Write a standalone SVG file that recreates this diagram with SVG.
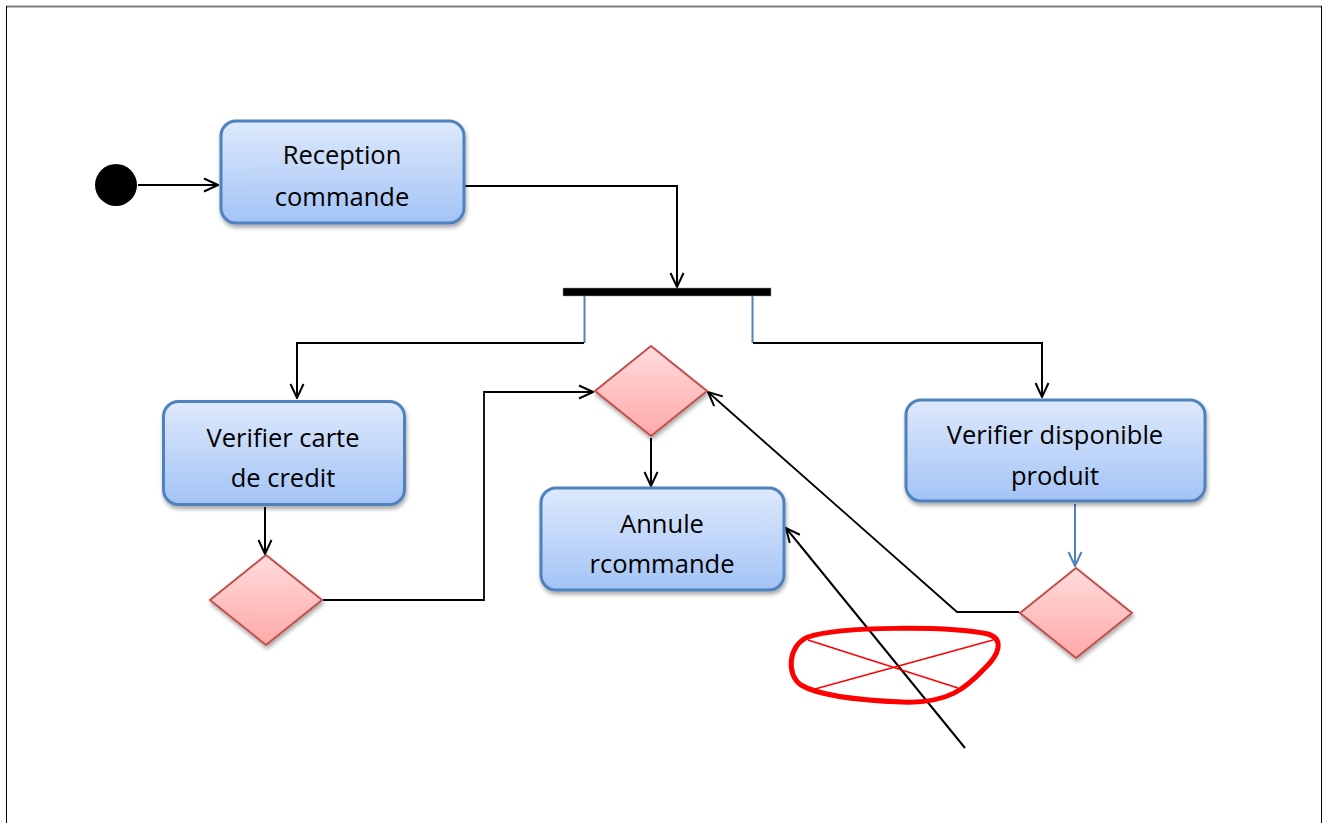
<svg xmlns="http://www.w3.org/2000/svg" width="1327" height="823" viewBox="0 0 1327 823">
  <style>
    .act { stroke: #4F81BD; stroke-width: 3; filter: url(#shadow); }
    .dec { fill: url(#redGrad); stroke: #C0504D; stroke-width: 2; filter: url(#shadow); }
    .lbl { font-family: "Open Sans", "Liberation Sans", sans-serif; font-size: 25.5px; fill: #000; text-anchor: middle; }
    .flow { fill: none; stroke: #000; stroke-width: 2; }
    .flowThin { fill: none; stroke: #000; stroke-width: 1.8; }
    .blue { fill: none; stroke: #4F81BD; stroke-width: 2; }
  </style>
  <defs>
    <linearGradient id="blueGrad" x1="0" y1="0" x2="0" y2="1">
      <stop offset="0" stop-color="#DEE9FC"/>
      <stop offset="1" stop-color="#A3C3F6"/>
    </linearGradient>
    <linearGradient id="redGrad" x1="0" y1="0" x2="0" y2="1">
      <stop offset="0" stop-color="#FFDCDC"/>
      <stop offset="1" stop-color="#FFA8A8"/>
    </linearGradient>
    <filter id="shadow" x="-10%" y="-10%" width="130%" height="140%">
      <feGaussianBlur in="SourceAlpha" stdDeviation="2"/>
      <feOffset dx="1" dy="3" result="b"/>
      <feComponentTransfer><feFuncA type="linear" slope="0.35"/></feComponentTransfer>
      <feMerge><feMergeNode/><feMergeNode in="SourceGraphic"/></feMerge>
    </filter>
    <marker id="open" viewBox="0 0 16 16" refX="15" refY="8" markerWidth="16" markerHeight="16" markerUnits="userSpaceOnUse" orient="auto">
      <path d="M1,1.5 L15,8 L1,14.5" fill="none" stroke="#000" stroke-width="2"/>
    </marker>
    <marker id="openBlue" viewBox="0 0 16 16" refX="15" refY="8" markerWidth="16" markerHeight="16" markerUnits="userSpaceOnUse" orient="auto">
      <path d="M1,1.5 L15,8 L1,14.5" fill="none" stroke="#4F81BD" stroke-width="2"/>
    </marker>
  </defs>

  <!-- page frame -->
  <line x1="6" y1="6.5" x2="1322" y2="6.5" stroke="#808080" stroke-width="2"/>
  <line x1="6.5" y1="6" x2="6.5" y2="823" stroke="#000" stroke-width="1"/>
  <line x1="1321.5" y1="6" x2="1321.5" y2="823" stroke="#000" stroke-width="1"/>

  <!-- connectors -->
  <g id="connectors">
    <line class="flow" x1="138" y1="185" x2="218" y2="185" marker-end="url(#open)"/>
    <polyline class="flow" points="465,186 677,186 677,287" marker-end="url(#open)"/>
    <line class="blue" x1="584.5" y1="296" x2="584.5" y2="343"/>
    <line class="blue" x1="752.5" y1="296" x2="752.5" y2="343"/>
    <polyline class="flow" points="584,343 297,343 297,398" marker-end="url(#open)"/>
    <polyline class="flow" points="753,343 1042,343 1042,397" marker-end="url(#open)"/>
    <line class="flow" x1="265" y1="507" x2="265" y2="554" marker-end="url(#open)"/>
    <polyline class="flowThin" points="323,600 484,600 484,392 593,392" marker-end="url(#open)"/>
    <line class="flow" x1="651" y1="438" x2="651" y2="486" marker-end="url(#open)"/>
    <line class="blue" x1="1075" y1="504" x2="1075" y2="566" marker-end="url(#openBlue)"/>
    <polyline class="flowThin" points="1019,612 957,612 708,392" marker-end="url(#open)"/>
    <line class="flow" x1="965" y1="748" x2="786" y2="528" marker-end="url(#open)"/>
  </g>

  <!-- start -->
  <g id="start">
    <circle cx="116" cy="185" r="21" fill="#000"/>
  </g>

  <!-- fork bar -->
  <g id="fork">
    <rect x="563" y="288" width="208" height="8" fill="#000" stroke="#999" stroke-width="0.5"/>
  </g>

  <g id="reception">
    <rect class="act" x="221" y="121" width="243" height="102" rx="15" fill="url(#blueGrad)"/>
    <text class="lbl" x="342" y="164">Reception</text>
    <text class="lbl" x="342" y="206">commande</text>
  </g>

  <g id="verifierCarte">
    <rect class="act" x="163.5" y="401.5" width="241" height="103" rx="15" fill="url(#blueGrad)"/>
    <text class="lbl" x="283" y="447">Verifier carte</text>
    <text class="lbl" x="283" y="487">de credit</text>
  </g>

  <g id="annule">
    <rect class="act" x="541" y="488" width="243" height="102" rx="15" fill="url(#blueGrad)"/>
    <text class="lbl" x="662" y="533">Annule</text>
    <text class="lbl" x="662" y="573">rcommande</text>
  </g>

  <g id="verifierDispo">
    <rect class="act" x="906" y="400" width="299" height="101" rx="15" fill="url(#blueGrad)"/>
    <text class="lbl" x="1055" y="444">Verifier disponible</text>
    <text class="lbl" x="1055" y="485">produit</text>
  </g>

  <g id="decisionCarte">
    <polygon class="dec" points="266,555 322,600 266,645 210,600"/>
  </g>
  <g id="decisionMerge">
    <polygon class="dec" points="651,346 707,391 651,436 595,391"/>
  </g>
  <g id="decisionDispo">
    <polygon class="dec" points="1076,568 1132,613 1076,658 1020,613"/>
  </g>

  <!-- red strike-out mark -->
  <g id="strike">
    <path d="M808,637 C840,626 950,626 988,634 C1004,639 1000,654 984,669 C966,688 948,704 902,702 C852,700 816,694 801,685 C786,675 788,645 808,637 Z" fill="none" stroke="#FF0000" stroke-width="5"/>
    <line x1="808" y1="640" x2="958" y2="688" stroke="#FF0000" stroke-width="1.5"/>
    <line x1="815" y1="689" x2="993" y2="640" stroke="#FF0000" stroke-width="1.5"/>
  </g>
</svg>
